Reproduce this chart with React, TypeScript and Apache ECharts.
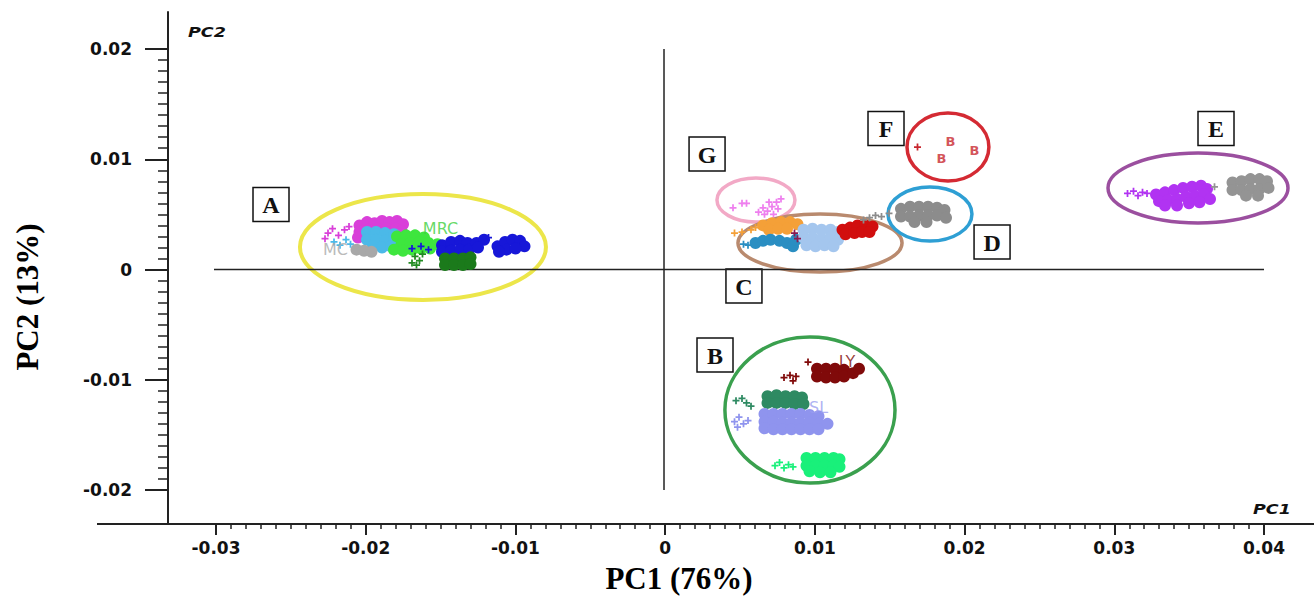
import React, { useEffect, useRef } from "react";
import * as echarts from "echarts";

// ---------- axis extents ----------
const X_EXTENT = [-0.033067, 0.043333];
const Y_EXTENT = [-0.023084, 0.023356];
const X_TICK_EXTENT = [-0.03, 0.04];
const Y_TICK_EXTENT = [-0.02, 0.02];
const TICK_STEP = 0.01;

// zero cross lines
const hLine = [[-0.03, 0], [0.04, 0]];
const vLine = [[0, 0.02], [0, -0.02]];

// ---------- group A ----------
const aMagentaCore = [[-0.0203,0.0040],[-0.0198,0.0043],[-0.0193,0.0042],[-0.0188,0.0044],[-0.0183,0.0043],[-0.0178,0.0044],[-0.0174,0.0041],[-0.0203,0.0034],[-0.0197,0.0036],[-0.0191,0.0037],[-0.0185,0.0037],[-0.0179,0.0037],[-0.0175,0.0035],[-0.0204,0.0029],[-0.0199,0.0030]];
const aMagentaSparse = [[-0.0224,0.0033],[-0.0221,0.0037],[-0.0217,0.0031],[-0.0213,0.0036],[-0.0210,0.0039],[-0.0226,0.0028]];
const aCyanCore = [[-0.0198,0.0034],[-0.0192,0.0034],[-0.0186,0.0033],[-0.0180,0.0032],[-0.0198,0.0027],[-0.0192,0.0027],[-0.0186,0.0026],[-0.0180,0.0026],[-0.0194,0.0021],[-0.0188,0.0020],[-0.0182,0.0021]];
const aCyanSparse = [[-0.0220,0.0025],[-0.0216,0.0022],[-0.0212,0.0027],[-0.0209,0.0023]];
const aLimeCore = [[-0.0178,0.0030],[-0.0172,0.0031],[-0.0166,0.0031],[-0.0160,0.0029],[-0.0175,0.0023],[-0.0169,0.0024],[-0.0163,0.0025],[-0.0157,0.0024],[-0.0151,0.0023],[-0.0180,0.0018],[-0.0174,0.0017],[-0.0168,0.0018],[-0.0162,0.0019],[-0.0156,0.0019]];
const aGreyCore = [[-0.0205,0.0018],[-0.0200,0.0017],[-0.0195,0.0016]];
const aForestSparse = [[-0.0166,0.0012],[-0.0163,0.0008],[-0.0168,0.0006],[-0.0161,0.0014],[-0.0165,0.0004]];
const aBlueCore = [[-0.0148,0.0022],[-0.0142,0.0025],[-0.0136,0.0026],[-0.0131,0.0024],[-0.0148,0.0016],[-0.0142,0.0017],[-0.0136,0.0018],[-0.0130,0.0018],[-0.0125,0.0024],[-0.0120,0.0027],[-0.0124,0.0020],[-0.0111,0.0021],[-0.0106,0.0025],[-0.0101,0.0027],[-0.0096,0.0026],[-0.0093,0.0021],[-0.0105,0.0018],[-0.0099,0.0019],[-0.0110,0.0016]];
const aBlueSparse = [[-0.0168,0.0019],[-0.0162,0.0021],[-0.0157,0.0018],[-0.0117,0.0029]];
const aDarkGreenCore = [[-0.0146,0.0010],[-0.0140,0.0010],[-0.0134,0.0010],[-0.0129,0.0011],[-0.0146,0.0004],[-0.0140,0.0004],[-0.0134,0.0004],[-0.0129,0.0005]];

// ---------- groups G and C ----------
const gVioletSparse = [[0.0063,0.0052],[0.0066,0.0056],[0.0069,0.0053],[0.0072,0.0057],[0.0075,0.0061],[0.0078,0.0064],[0.0070,0.0061],[0.0067,0.0050],[0.0073,0.0050],[0.0052,0.0060],[0.0055,0.0060],[0.0046,0.0056],[0.0076,0.0055]];
const cOrangeCore = [[0.0066,0.0040],[0.0072,0.0042],[0.0078,0.0043],[0.0084,0.0043],[0.0089,0.0041],[0.0070,0.0036],[0.0076,0.0037],[0.0082,0.0037]];
const cOrangeSparse = [[0.0058,0.0036],[0.0052,0.0034],[0.0047,0.0033],[0.0061,0.0038]];
const cTealCore = [[0.0061,0.0024],[0.0066,0.0026],[0.0071,0.0027],[0.0077,0.0026],[0.0082,0.0024],[0.0086,0.0021],[0.0088,0.0027]];
const cTealSparse = [[0.0056,0.0022],[0.0053,0.0023]];
const cSkyCore = [[0.0093,0.0036],[0.0099,0.0037],[0.0105,0.0036],[0.0111,0.0036],[0.0116,0.0034],[0.0093,0.0029],[0.0099,0.0029],[0.0105,0.0028],[0.0111,0.0029],[0.0116,0.0027],[0.0095,0.0022],[0.0101,0.0021],[0.0107,0.0022],[0.0113,0.0021]];
const cPlumSparse = [[0.0087,0.0033],[0.0089,0.0028]];
const cRedCore = [[0.0119,0.0036],[0.0124,0.0038],[0.0129,0.0040],[0.0134,0.0040],[0.0139,0.0039],[0.0121,0.0032],[0.0127,0.0033],[0.0132,0.0034],[0.0137,0.0034]];

// ---------- group D ----------
const dGreyCore = [[0.0158,0.0055],[0.0164,0.0057],[0.0170,0.0057],[0.0176,0.0057],[0.0182,0.0056],[0.0187,0.0054],[0.0158,0.0048],[0.0164,0.0048],[0.0170,0.0049],[0.0176,0.0049],[0.0182,0.0049],[0.0188,0.0047],[0.0167,0.0043],[0.0175,0.0043]];
const dGreySparse = [[0.0133,0.0045],[0.0137,0.0047],[0.0141,0.0049],[0.0145,0.0048],[0.0150,0.0051]];

// ---------- group F ----------
const fRedLabelled = [[0.0191,0.0116],[0.0185,0.0101],[0.0207,0.0108]];
const fRedSparse = [[0.0169,0.0111]];

// ---------- group E ----------
const eMagentaCore = [[0.0328,0.0068],[0.0334,0.0070],[0.0340,0.0072],[0.0346,0.0074],[0.0352,0.0075],[0.0358,0.0076],[0.0362,0.0073],[0.0330,0.0062],[0.0336,0.0063],[0.0342,0.0064],[0.0348,0.0066],[0.0354,0.0067],[0.0360,0.0068],[0.0364,0.0064],[0.0334,0.0058],[0.0342,0.0058],[0.0350,0.0060],[0.0357,0.0061]];
const eMagentaSparse = [[0.0309,0.0069],[0.0313,0.0071],[0.0316,0.0067],[0.0319,0.0070],[0.0322,0.0069]];
const eGreyCore = [[0.0379,0.0079],[0.0385,0.0080],[0.0391,0.0082],[0.0397,0.0082],[0.0402,0.0080],[0.0379,0.0072],[0.0385,0.0072],[0.0391,0.0073],[0.0397,0.0073],[0.0403,0.0074],[0.0388,0.0067],[0.0396,0.0067]];
const eGreySparse = [[0.0367,0.0075]];

// ---------- group B ----------
const bMaroonCore = [[0.0102,-0.0090],[0.0108,-0.0090],[0.0114,-0.0090],[0.0120,-0.0091],[0.0102,-0.0097],[0.0108,-0.0098],[0.0114,-0.0098],[0.0120,-0.0097],[0.0126,-0.0094],[0.0130,-0.0090]];
const bMaroonSparse = [[0.0080,-0.0098],[0.0084,-0.0096],[0.0088,-0.0097],[0.0086,-0.0101],[0.0096,-0.0084]];
const bSeaCore = [[0.0069,-0.0115],[0.0075,-0.0114],[0.0081,-0.0115],[0.0087,-0.0115],[0.0092,-0.0116],[0.0069,-0.0121],[0.0075,-0.0121],[0.0081,-0.0121],[0.0087,-0.0122],[0.0093,-0.0122]];
const bSeaSparse = [[0.0048,-0.0119],[0.0052,-0.0117],[0.0055,-0.0121],[0.0058,-0.0124]];
const bLavenderCore = [[0.0067,-0.0131],[0.0073,-0.0131],[0.0079,-0.0131],[0.0085,-0.0131],[0.0091,-0.0131],[0.0097,-0.0132],[0.0103,-0.0133],[0.0067,-0.0138],[0.0073,-0.0138],[0.0079,-0.0139],[0.0085,-0.0139],[0.0091,-0.0139],[0.0097,-0.0139],[0.0103,-0.0140],[0.0109,-0.0140],[0.0067,-0.0144],[0.0073,-0.0145],[0.0079,-0.0145],[0.0085,-0.0145],[0.0091,-0.0145],[0.0097,-0.0145],[0.0103,-0.0145]];
const bLavenderSparse = [[0.0047,-0.0138],[0.0050,-0.0134],[0.0053,-0.0140],[0.0056,-0.0137],[0.0049,-0.0143]];
const bSpringCore = [[0.0095,-0.0171],[0.0101,-0.0171],[0.0107,-0.0171],[0.0113,-0.0171],[0.0117,-0.0172],[0.0095,-0.0178],[0.0101,-0.0178],[0.0107,-0.0178],[0.0113,-0.0178],[0.0117,-0.0179],[0.0097,-0.0183],[0.0104,-0.0184],[0.0111,-0.0184]];
const bSpringSparse = [[0.0074,-0.0178],[0.0077,-0.0175],[0.0080,-0.0180],[0.0083,-0.0177],[0.0086,-0.0179]];

// ---------- sample labels in the plot ----------
const sampleLabels = [
  { name: "MRC", x: -0.0149, y: 0.0037, color: "#3ecf3e" },
  { name: "MC", x: -0.0219, y: 0.0018, color: "#a8a8a8" },
  { name: "LY", x: 0.0122, y: -0.0083, color: "#7f0a0a" },
  { name: "SL", x: 0.0103, y: -0.0125, color: "#9a9ef0" },
];

// ---------- cluster ellipses (data units) ----------
const ellipses = [
  { cx: -0.01607, cy: 0.00204, rx: 0.0082, ry: 0.0048, color: "#ece64a", w: 4 },
  { cx: 0.00613, cy: 0.0063, rx: 0.0026, ry: 0.0020, color: "#f2a9c6", w: 3.5 },
  { cx: 0.0104, cy: 0.0024, rx: 0.00547, ry: 0.00263, color: "#b98a6e", w: 3.5 },
  { cx: 0.01773, cy: 0.00503, rx: 0.0028, ry: 0.00245, color: "#2e9fd4", w: 3.5 },
  { cx: 0.01893, cy: 0.01111, rx: 0.00273, ry: 0.00308, color: "#d42a33", w: 3.5 },
  { cx: 0.0356, cy: 0.00739, rx: 0.006, ry: 0.00317, color: "#9b4f9f", w: 3.5 },
  { cx: 0.00973, cy: -0.01274, rx: 0.00567, ry: 0.00662, color: "#3aa04e", w: 3.5 },
];

// ---------- cluster letter boxes (data units) ----------
const letterBoxes = [
  { letter: "A", x: -0.0262, y: 0.0059 },
  { letter: "G", x: 0.00287, y: 0.01048 },
  { letter: "F", x: 0.0148, y: 0.0128 },
  { letter: "E", x: 0.0368, y: 0.0128 },
  { letter: "D", x: 0.02187, y: 0.00249 },
  { letter: "C", x: 0.00533, y: -0.0015 },
  { letter: "B", x: 0.0034, y: -0.00776 },
];

const PLUS = "path://M3,0H5V3H8V5H5V8H3V5H0V3H3Z";

const groups = [
  { color: "#d93fd9", core: aMagentaCore, sparse: aMagentaSparse },
  { color: "#4bb9e8", core: aCyanCore, sparse: aCyanSparse },
  { color: "#3ee63e", core: aLimeCore, sparse: [] },
  { color: "#a8a8a8", core: aGreyCore, sparse: [] },
  { color: "#228b22", core: [], sparse: aForestSparse },
  { color: "#1717d8", core: aBlueCore, sparse: aBlueSparse },
  { color: "#1b7a1b", core: aDarkGreenCore, sparse: [] },
  { color: "#ee7fee", core: [], sparse: gVioletSparse },
  { color: "#f4a038", core: cOrangeCore, sparse: cOrangeSparse },
  { color: "#2a8ec2", core: cTealCore, sparse: cTealSparse },
  { color: "#a4c6ee", core: cSkyCore, sparse: [] },
  { color: "#8b1a50", core: [], sparse: cPlumSparse },
  { color: "#d10e0e", core: cRedCore, sparse: [] },
  { color: "#8c8c8c", core: dGreyCore, sparse: dGreySparse },
  { color: "#c8262e", core: [], sparse: fRedSparse },
  { color: "#b133f2", core: eMagentaCore, sparse: eMagentaSparse },
  { color: "#949494", core: eGreyCore, sparse: eGreySparse },
  { color: "#800a0a", core: bMaroonCore, sparse: bMaroonSparse },
  { color: "#2e8a62", core: bSeaCore, sparse: bSeaSparse },
  { color: "#8f94ee", core: bLavenderCore, sparse: bLavenderSparse },
  { color: "#19f07a", core: bSpringCore, sparse: bSpringSparse },
];

const tickFmt = (v: number) => (Math.abs(v) < 1e-9 ? "0" : v.toFixed(2));
const TICK_FONT = { fontFamily: "DejaVu Sans", fontWeight: "bold" as const, fontSize: 17, color: "#111" };

export default function App() {
  const ref = useRef<HTMLDivElement>(null);
  useEffect(() => {
    const chart = echarts.init(ref.current!, null, { renderer: "svg" });
    const series: any[] = [];
    groups.forEach((g) => {
      if (g.core.length)
        series.push({ type: "scatter", xAxisIndex: 0, yAxisIndex: 0, data: g.core, symbol: "circle", symbolSize: 12, itemStyle: { color: g.color, opacity: 1 }, silent: true });
      if (g.sparse.length)
        series.push({ type: "scatter", xAxisIndex: 0, yAxisIndex: 0, data: g.sparse, symbol: PLUS, symbolSize: 7, itemStyle: { color: g.color, opacity: 1 }, silent: true });
    });
    series.push({
      type: "scatter", xAxisIndex: 0, yAxisIndex: 0, data: fRedLabelled, symbolSize: 1,
      itemStyle: { color: "#c8262e" },
      label: { show: true, position: "inside", formatter: "B", color: "#c8262e", fontFamily: "DejaVu Sans", fontWeight: "bold", fontSize: 13 },
    });
    series.push({
      type: "scatter", xAxisIndex: 0, yAxisIndex: 0, symbolSize: 0, z: 4,
      data: sampleLabels.map((s) => ({ value: [s.x, s.y], name: s.name, label: { color: s.color } })),
      label: { show: true, position: "inside", formatter: "{b}", fontFamily: "DejaVu Sans", fontSize: 16 },
    });
    series.push({ type: "line", xAxisIndex: 0, yAxisIndex: 0, data: hLine, symbol: "none", lineStyle: { color: "#222", width: 1.5 }, z: 1, silent: true });
    series.push({ type: "line", xAxisIndex: 0, yAxisIndex: 0, data: vLine, symbol: "none", lineStyle: { color: "#222", width: 1.5 }, z: 1, silent: true });

    chart.setOption({
      animation: false,
      backgroundColor: "#ffffff",
      grid: [
        { left: 168, right: 0, top: 12, bottom: 73 },
        { left: 216, right: 50, top: 12, bottom: 73 },
        { left: 168, right: 0, top: 49, bottom: 107 },
      ],
      xAxis: [
        { type: "value", gridIndex: 0, min: X_EXTENT[0], max: X_EXTENT[1], axisLine: { show: true, onZero: false, lineStyle: { color: "#222", width: 2 } }, axisTick: { show: false }, axisLabel: { show: false }, splitLine: { show: false } },
        { type: "value", gridIndex: 1, min: X_TICK_EXTENT[0], max: X_TICK_EXTENT[1], interval: TICK_STEP, axisLine: { show: false, onZero: false }, axisTick: { show: true, length: 11, lineStyle: { color: "#222", width: 2 } }, minorTick: { show: true, splitNumber: 10, length: 5, lineStyle: { color: "#222", width: 1.5 } }, axisLabel: { ...TICK_FONT, margin: 15, formatter: tickFmt }, splitLine: { show: false } },
        { type: "value", gridIndex: 2, show: false },
      ],
      yAxis: [
        { type: "value", gridIndex: 0, min: Y_EXTENT[0], max: Y_EXTENT[1], axisLine: { show: true, onZero: false, lineStyle: { color: "#222", width: 2 } }, axisTick: { show: false }, axisLabel: { show: false }, splitLine: { show: false } },
        { type: "value", gridIndex: 1, show: false },
        { type: "value", gridIndex: 2, min: Y_TICK_EXTENT[0], max: Y_TICK_EXTENT[1], interval: TICK_STEP, axisLine: { show: false, onZero: false }, axisTick: { show: true, length: 23, lineStyle: { color: "#222", width: 2 } }, minorTick: { show: true, splitNumber: 10, length: 10, lineStyle: { color: "#222", width: 1.5 } }, axisLabel: { ...TICK_FONT, margin: 36, formatter: tickFmt }, splitLine: { show: false } },
      ],
      series,
    });

    const toPx = (x: number, y: number) => chart.convertToPixel({ gridIndex: 0 } as any, [x, y]) as number[];
    const graphics: any[] = [];
    ellipses.forEach((e) => {
      const c = toPx(e.cx, e.cy);
      const r = toPx(e.cx + e.rx, e.cy + e.ry);
      graphics.push({ type: "ellipse", z: 1, silent: true, shape: { cx: c[0], cy: c[1], rx: Math.abs(r[0] - c[0]), ry: Math.abs(c[1] - r[1]) }, style: { fill: "none", stroke: e.color, lineWidth: e.w } });
    });
    letterBoxes.forEach((b) => {
      const p = toPx(b.x, b.y);
      graphics.push({
        type: "group", x: p[0], y: p[1], z: 10,
        children: [
          { type: "rect", shape: { x: -18, y: -17, width: 36, height: 34 }, style: { fill: "#fff", stroke: "#111", lineWidth: 1.5 } },
          { type: "text", style: { text: b.letter, x: 0, y: 1, align: "center", verticalAlign: "middle", font: 'bold 24px "Liberation Serif"', fill: "#111" } },
        ],
      });
    });
    // axis-line extension left of the y axis
    graphics.push({ type: "line", z: 5, shape: { x1: 97, y1: 524, x2: 168, y2: 524 }, style: { stroke: "#222", lineWidth: 2 } });
    // axis names
    graphics.push({ type: "text", z: 10, x: 188, y: 32, scaleX: 1.25, style: { text: "PC2", verticalAlign: "middle", font: 'italic bold 14px "DejaVu Sans"', fill: "#111" } });
    graphics.push({ type: "text", z: 10, x: 1253, y: 509, scaleX: 1.25, style: { text: "PC1", verticalAlign: "middle", font: 'italic bold 14px "DejaVu Sans"', fill: "#111" } });
    graphics.push({ type: "text", z: 10, x: 679, y: 578, style: { text: "PC1 (76%)", align: "center", verticalAlign: "middle", font: 'bold 31px "Liberation Serif"', fill: "#000" } });
    graphics.push({ type: "text", z: 10, x: 27, y: 297, rotation: Math.PI / 2, style: { text: "PC2 (13%)", align: "center", verticalAlign: "middle", font: 'bold 31px "Liberation Serif"', fill: "#000" } });
    chart.setOption({ graphic: graphics });

    return () => chart.dispose();
  }, []);
  return <div ref={ref} style={{ position: "fixed", left: 0, top: 0, width: 1314, height: 597, background: "#fff" }} />;
}
